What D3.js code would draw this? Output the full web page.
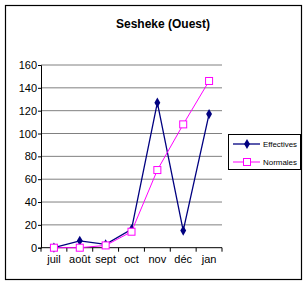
<!DOCTYPE html>
<html><head><meta charset="utf-8">
<script src="https://cdn.jsdelivr.net/npm/d3@7"></script>
<style>body{margin:0;background:#fff}svg{display:block}text{font-family:"Liberation Sans",Arial,sans-serif}</style>
</head><body>
<script>
const categories = ["juil","août","sept","oct","nov","déc","jan"];
const effectives = [0, 6, 3, 16, 127, 15, 117];
const normales = [0, 0, 2, 14, 68, 108, 146];
const yTicks = [0,20,40,60,80,100,120,140,160];
const seriesNames = ["Effectives","Normales"];
const title = "Sesheke (Ouest)";

const W = 307, H = 285;
const svg = d3.select("body").append("svg").attr("width", W).attr("height", H);
svg.append("rect").attr("x",5.5).attr("y",5.5).attr("width",296).attr("height",274)
  .attr("fill","#fff").attr("stroke","#000").attr("stroke-width",1.2);

svg.append("text").attr("x",163).attr("y",28).attr("text-anchor","middle")
  .attr("font-size",12).attr("font-weight","bold").text(title);

const x0 = 41, x1 = 222, yTop = 65, yBot = 247.7;
const x = d3.scaleBand().domain(categories).range([x0, x1]);
const y = d3.scaleLinear().domain([0,160]).range([yBot, yTop]);

// gridlines
svg.append("g").selectAll("line").data(yTicks.filter(d=>d>0)).join("line")
  .attr("x1",x0).attr("x2",x1).attr("y1",d=>y(d)).attr("y2",d=>y(d))
  .attr("stroke","#808080").attr("stroke-width",1);

// y axis
const ya = svg.append("g").attr("transform",`translate(${x0},0)`)
  .call(d3.axisLeft(y).tickValues(yTicks).tickSize(3).tickPadding(1));
ya.select(".domain").attr("stroke","#000");
ya.selectAll("text").attr("font-size",11).attr("fill","#000").attr("font-family","Liberation Sans, Arial, sans-serif");

// x axis
const xa = svg.append("g").attr("transform",`translate(0,${yBot})`)
  .call(d3.axisBottom(x).tickSize(0).tickPadding(8));
xa.select(".domain").attr("stroke","#000").attr("d",`M${x0},0H${x1}`);
xa.selectAll("text").attr("font-size",11).attr("fill","#000").attr("font-family","Liberation Sans, Arial, sans-serif");
svg.append("g").selectAll("line").data(categories.slice(1).concat(["__end"])).join("line")
  .attr("x1",(d,i)=> x0 + x.step()*(i+1)).attr("x2",(d,i)=> x0 + x.step()*(i+1))
  .attr("y1",yBot).attr("y2",yBot+4).attr("stroke","#000");
svg.append("line").attr("x1",x0).attr("x2",x0).attr("y1",yBot).attr("y2",yBot+4).attr("stroke","#000");

const cx = c => x(c) + x.bandwidth()/2;
const line = d3.line().x((d,i)=>cx(categories[i])).y(d=>y(d));

svg.append("path").datum(effectives).attr("d",line).attr("fill","none").attr("stroke","#000080").attr("stroke-width",1.3);
svg.append("path").datum(normales).attr("d",line).attr("fill","none").attr("stroke","#FF00FF").attr("stroke-width",1);

const diamond = d3.symbol().type(d3.symbolDiamond).size(30);
svg.append("g").selectAll("path").data(effectives).join("path")
  .attr("d",diamond).attr("transform",(d,i)=>`translate(${cx(categories[i])},${y(d)})`).attr("fill","#000080");
svg.append("g").selectAll("rect").data(normales).join("rect")
  .attr("x",(d,i)=>cx(categories[i])-3.5).attr("y",d=>y(d)-3.5).attr("width",7).attr("height",7)
  .attr("fill","#fff").attr("stroke","#FF00FF").attr("stroke-width",1);

// legend
const lg = svg.append("g");
lg.append("rect").attr("x",228.5).attr("y",134.5).attr("width",72).attr("height",35)
  .attr("fill","#fff").attr("stroke","#000").attr("stroke-width",1);
const ly = [144, 162];
lg.append("line").attr("x1",233).attr("x2",260).attr("y1",ly[0]).attr("y2",ly[0]).attr("stroke","#000080").attr("stroke-width",1.3);
lg.append("path").attr("d",diamond).attr("transform",`translate(247,${ly[0]})`).attr("fill","#000080");
lg.append("line").attr("x1",233).attr("x2",260).attr("y1",ly[1]).attr("y2",ly[1]).attr("stroke","#FF00FF");
lg.append("rect").attr("x",243.5).attr("y",ly[1]-3.5).attr("width",7).attr("height",7).attr("fill","#fff").attr("stroke","#FF00FF");
lg.selectAll("text.l").data(seriesNames).join("text").attr("class","l")
  .attr("x",263).attr("y",(d,i)=>ly[i]+3).attr("font-size",8).attr("textLength",34).attr("lengthAdjust","spacingAndGlyphs").text(d=>d);
</script>
</body></html>
